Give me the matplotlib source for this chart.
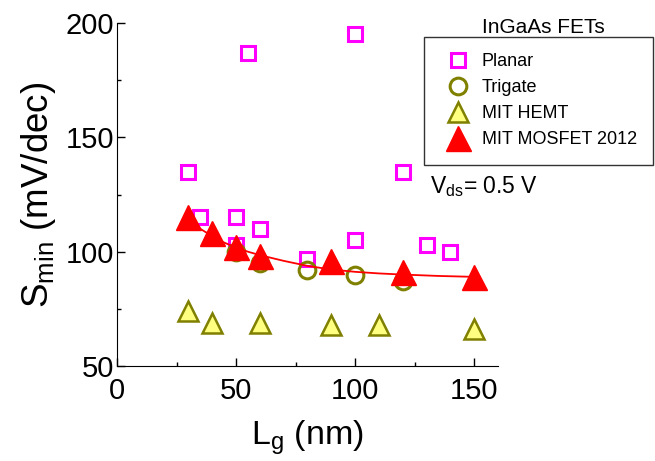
import numpy as np
import matplotlib
matplotlib.use('Agg')
import matplotlib.pyplot as plt
from matplotlib.ticker import MultipleLocator

plt.rcParams['font.family'] = ['Liberation Sans', 'DejaVu Sans']
plt.rcParams['mathtext.fontset'] = 'custom'
plt.rcParams['mathtext.rm'] = 'Liberation Sans'
plt.rcParams['mathtext.it'] = 'Liberation Sans'

# Planar devices
planar_x = [30, 35, 50, 50, 55, 60, 80, 100, 100, 120, 130, 140]
planar_y = [135, 115, 115, 103, 187, 110, 97, 195, 105, 135, 103, 100]

# Trigate devices
trigate_x = [50, 60, 80, 100, 120]
trigate_y = [100, 95, 92, 90, 87]

# MIT HEMT
hemt_x = [30, 40, 60, 90, 110, 150]
hemt_y = [74, 69, 69, 68, 68, 66]

# MIT MOSFET 2012
mosfet_x = [30, 40, 50, 60, 90, 120, 150]
mosfet_y = [115, 108, 102, 98, 96, 91, 89]

# guide line through the MOSFET points
trend_x = [30, 35, 40, 45, 50, 55, 60, 70, 80, 90, 100, 110, 120, 135, 150]
trend_y = [113.5, 110, 106.8, 104, 101.8, 100, 98.5, 96, 93.8, 92.2, 91.2, 90.5, 90, 89.4, 89]

fig = plt.figure(figsize=(6.55, 4.61), dpi=100)
ax = fig.add_axes([0.1786, 0.206, 0.5817, 0.744])

ax.plot(planar_x, planar_y, 's', ms=10, mfc='none', mec='#FF00FF', mew=2.2,
        label='Planar', zorder=3)
ax.plot(trigate_x, trigate_y, 'o', ms=12, mfc='none', mec='#808000', mew=2.2,
        label='Trigate', zorder=3)
ax.plot(hemt_x, hemt_y, '^', ms=15, mfc='#FFFF80', mec='#808000', mew=1.8,
        label='MIT HEMT', zorder=3)
ax.plot(trend_x, trend_y, '-', color='red', lw=1.3, zorder=4)
ax.plot(mosfet_x, mosfet_y, '^', ms=18, mfc='red', mec='red', mew=1,
        label='MIT MOSFET 2012', zorder=5)

ax.set_xlim(0, 160)
ax.set_ylim(50, 200)
ax.xaxis.set_major_locator(MultipleLocator(50))
ax.xaxis.set_minor_locator(MultipleLocator(25))
ax.yaxis.set_major_locator(MultipleLocator(50))
ax.yaxis.set_minor_locator(MultipleLocator(25))
ax.tick_params(which='both', direction='in', labelsize=21, width=1)
ax.tick_params(which='major', length=6)
ax.tick_params(which='minor', length=3)
ax.tick_params(axis='x', which='major', pad=8)
ax.tick_params(axis='y', which='major', pad=2)
ax.spines['top'].set_visible(False)
ax.spines['right'].set_visible(False)

ax.set_xlabel(r'L$_\mathregular{g}$ (nm)', fontsize=24.5)
ax.set_ylabel(r'S$_\mathregular{min}$ (mV/dec)', fontsize=26.5)
ax.xaxis.set_label_coords(0.5, -0.152)
ax.yaxis.set_label_coords(-0.155, 0.5)

leg = ax.legend(loc='upper left', bbox_to_anchor=(0.6473, 0.9197),
                bbox_transform=fig.transFigure, borderaxespad=0,
                fontsize=13, frameon=True, fancybox=False,
                edgecolor='black', handletextpad=0.3, borderpad=0.9,
                labelspacing=0.5, handlelength=2.0)
leg.get_frame().set_linewidth(1)

fig.text(543 / 655, 1 - 33 / 461, 'InGaAs FETs', fontsize=15,
         ha='center', va='baseline')
fig.text(430 / 655, 1 - 193 / 461, r'V$_\mathregular{ds}$= 0.5 V',
         fontsize=16.5, va='baseline')

fig.savefig('out.png', dpi=100)
